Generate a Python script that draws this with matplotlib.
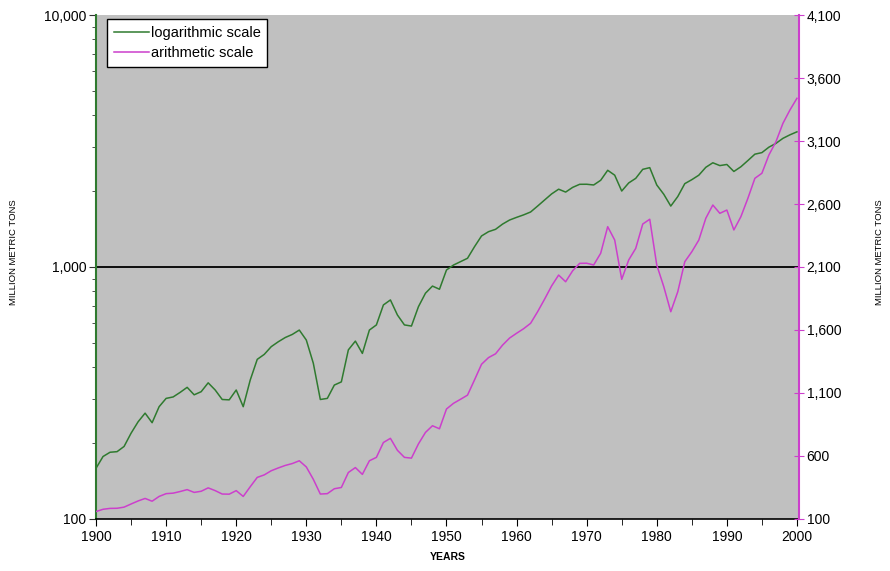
import matplotlib
matplotlib.use("Agg")
import matplotlib.pyplot as plt
from matplotlib.ticker import FixedLocator, FuncFormatter, LogLocator, NullFormatter, MultipleLocator

plt.rcParams['font.family'] = ['Liberation Sans', 'DejaVu Sans']

years = list(range(1900, 2001))
values = [
    159, 177, 184, 185, 194, 219, 243, 263, 241, 279,
    301, 305, 318, 333, 311, 320, 347, 325, 298, 297,
    325, 279, 356, 430, 450, 483, 505, 525, 540, 562,
    513, 415, 298, 301, 340, 350, 469, 508, 454, 562,
    589, 707, 740, 645, 589, 583, 696, 787, 840, 816,
    973, 1018, 1050, 1083, 1204, 1328, 1381, 1411, 1480, 1536,
    1574, 1610, 1653, 1745, 1845, 1950, 2036, 1983, 2070, 2129,
    2130, 2116, 2209, 2420, 2314, 2002, 2156, 2248, 2441, 2479,
    2116, 1944, 1745, 1904, 2142, 2221, 2314, 2487, 2592, 2526,
    2552, 2394, 2499, 2645, 2804, 2844, 2989, 3094, 3240, 3346,
    3439,
]
left_ticks = [100, 1000, 10000]
right_ticks = [100, 600, 1100, 1600, 2100, 2600, 3100, 3600, 4100]
x_ticks = list(range(1900, 2001, 10))

green = '#2f7a2f'
magenta = '#cc3fcc'

fig = plt.figure(figsize=(8.9, 5.71), dpi=100)
ax = fig.add_axes([0.1079, 0.0911, 0.7899, 0.8826])
ax.set_facecolor('#c0c0c0')

ax.set_yscale('log')
ax.set_ylim(100, 10000)
ax.set_xlim(1900, 2000.3)
ln1, = ax.plot(years, values, color=green, lw=1.1, label='logarithmic scale', zorder=3)
ax.axhline(1000, color='black', lw=1.3, zorder=2)

ax2 = ax.twinx()
ax2.set_ylim(100, 4100)
ln2, = ax2.plot(years, values, color=magenta, lw=1.1, label='arithmetic scale', zorder=3)

# spines
for a in (ax, ax2):
    a.spines['top'].set_visible(False)
ax.spines['left'].set_color(green)
ax.spines['left'].set_linewidth(1.5)
ax.spines['bottom'].set_color('black')
ax.spines['bottom'].set_linewidth(1.2)
ax.spines['right'].set_visible(False)
ax2.spines['left'].set_visible(False)
ax2.spines['bottom'].set_visible(False)
ax2.spines['right'].set_color(magenta)
ax2.spines['right'].set_linewidth(1.5)

# left axis ticks
ax.yaxis.set_major_locator(FixedLocator(left_ticks))
ax.yaxis.set_major_formatter(FuncFormatter(lambda v, p: f"{int(round(v)):,}"))
ax.yaxis.set_minor_locator(LogLocator(base=10, subs=range(2, 10)))
ax.yaxis.set_minor_formatter(NullFormatter())
ax.tick_params(axis='y', which='major', direction='out', length=5, color='#333333', labelsize=10, pad=2)
ax.tick_params(axis='y', which='minor', direction='out', length=3, color='#333333')

# x axis ticks
ax.xaxis.set_major_locator(FixedLocator(x_ticks))
ax.xaxis.set_minor_locator(MultipleLocator(5))
ax.tick_params(axis='x', which='major', direction='out', length=5, labelsize=10, pad=3)
ax.tick_params(axis='x', which='minor', direction='out', length=4)

# right axis ticks
ax2.yaxis.set_major_locator(FixedLocator(right_ticks))
ax2.yaxis.set_major_formatter(FuncFormatter(lambda v, p: f"{int(round(v)):,}"))
ax2.tick_params(axis='y', which='major', direction='inout', length=7, color=magenta, labelsize=10, pad=2)

ax.set_xlabel('YEARS', fontsize=7.5, fontweight='bold', labelpad=6)
ax.set_ylabel('MILLION METRIC TONS', fontsize=6.8)
ax.yaxis.set_label_coords(-0.111, 0.53)
ax2.set_ylabel('MILLION METRIC TONS', fontsize=6.8, rotation=90)
ax2.yaxis.set_label_coords(1.108, 0.53)

leg = ax.legend(handles=[ln1, ln2], loc='upper left', bbox_to_anchor=(0.016, 0.992),
                fontsize=10.5, frameon=True, fancybox=False, edgecolor='black',
                framealpha=1, handlelength=2.4, handletextpad=0.15, borderpad=0.45,
                labelspacing=0.45, borderaxespad=0.0)
leg.get_frame().set_linewidth(1.0)
leg.set_zorder(5)

fig.savefig('out.png', dpi=100)
